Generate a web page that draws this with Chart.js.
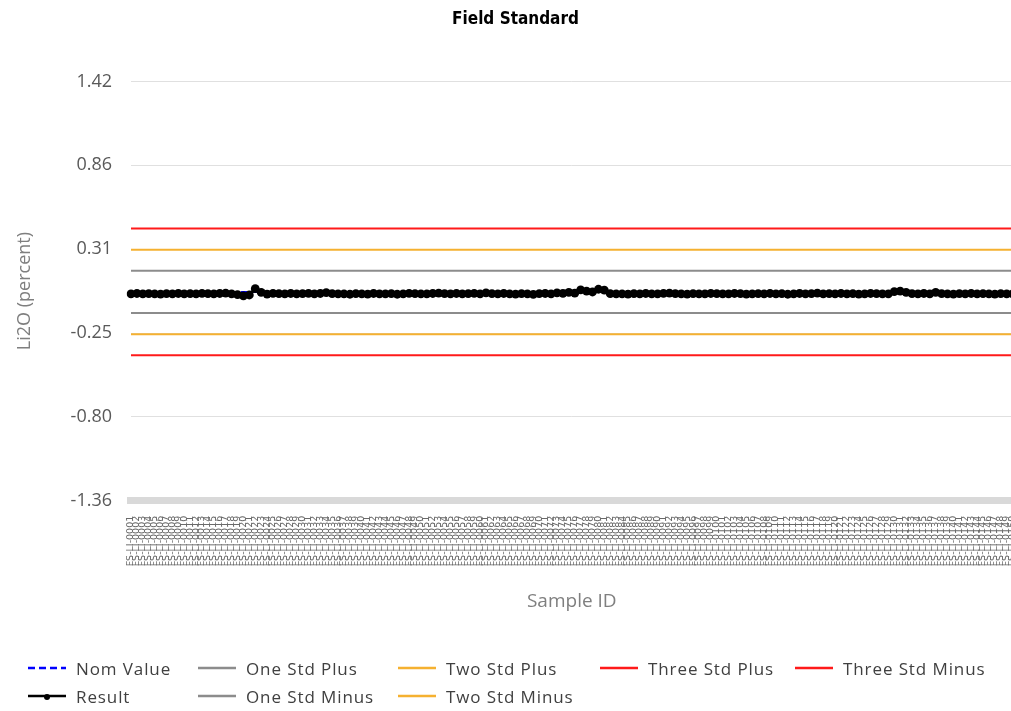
<!DOCTYPE html>
<html lang="en">
  <head>
    <meta charset="UTF-8" />
    <title>Field Standard</title>
    <script src="https://cdn.jsdelivr.net/npm/chart.js"></script>
    <style>
      body {
        margin: 0;
        padding: 0;
        background: #fff;
        overflow: hidden;
      }

      #wrap {
        position: relative;
        width: 1011px;
        height: 711px;
        overflow: hidden;
      }

      #legend {
        position: absolute;
        left: 28px;
        top: 654px;
        display: grid;
        grid-template-columns: 170px 200px 202px 195px 200px;
        grid-auto-rows: 28px;
        font-family: "Open Sans", sans-serif;
        font-size: 17px;
        letter-spacing: 0.9px;
        color: #404040;
      }

      .item {
        display: flex;
        align-items: center;
        white-space: nowrap;
      }

      .item canvas {
        margin-right: 10px;
      }
    </style>
  </head>
  <body>
    <div id="wrap">
      <!-- a little wider than the page, the plot runs off the right edge -->
      <canvas id="qcChart" width="1031" height="711"></canvas>
      <div id="legend"></div>
    </div>

    <script>
      // Li2O results for the field standard, in sample order
      const results = [
        0.012, 0.014, 0.011, 0.013, 0.012, 0.010, 0.013, 0.012, 0.014, 0.011,
        0.013, 0.012, 0.015, 0.013, 0.011, 0.014, 0.016, 0.012, 0.006, -0.002,
        0.004, 0.046, 0.022, 0.010, 0.015, 0.013, 0.012, 0.014, 0.011, 0.013,
        0.015, 0.012, 0.014, 0.020, 0.013, 0.011, 0.012, 0.009, 0.013, 0.012,
        0.010, 0.014, 0.012, 0.011, 0.013, 0.009, 0.012, 0.015, 0.013, 0.011,
        0.012, 0.014, 0.016, 0.013, 0.012, 0.014, 0.011, 0.013, 0.015, 0.012,
        0.018, 0.013, 0.012, 0.014, 0.011, 0.010, 0.013, 0.012, 0.008, 0.013,
        0.014, 0.012, 0.018, 0.015, 0.021, 0.016, 0.038, 0.030, 0.024, 0.042,
        0.036, 0.013, 0.011, 0.012, 0.010, 0.013, 0.012, 0.014, 0.011, 0.012,
        0.015, 0.017, 0.013, 0.012, 0.010, 0.013, 0.011, 0.012, 0.014, 0.013,
        0.011, 0.012, 0.014, 0.013, 0.010, 0.012, 0.013, 0.011, 0.014, 0.012,
        0.013, 0.009, 0.012, 0.014, 0.011, 0.013, 0.016, 0.012, 0.013, 0.011,
        0.014, 0.012, 0.013, 0.010, 0.012, 0.014, 0.013, 0.011, 0.012, 0.026,
        0.030, 0.022, 0.013, 0.012, 0.014, 0.011, 0.021, 0.013, 0.012, 0.010,
        0.013, 0.012, 0.014, 0.011, 0.013, 0.012, 0.010, 0.013, 0.012, 0.011,
      ];

      // sample IDs along the x axis
      const sampleIds = results.map((v, i) => "FS-LI-" + String(i + 1).padStart(4, "0"));

      // control limits
      const nomValue = 0.024;
      const oneStdPlus = 0.164;
      const oneStdMinus = -0.116;
      const twoStdPlus = 0.304;
      const twoStdMinus = -0.256;
      const threeStdPlus = 0.444;
      const threeStdMinus = -0.396;

      // y axis runs -1.36 .. 1.42 in five equal steps
      const yMin = -1.36;
      const yMax = 1.42;

      const flat = (v) => sampleIds.map(() => v);

      const limitLine = (label, value, color, order) => ({
        label: label,
        data: flat(value),
        borderColor: color,
        backgroundColor: color,
        borderWidth: 2,
        pointRadius: 0,
        fill: false,
        order: order,
      });

      const datasets = [
        {
          label: "Nom Value",
          data: flat(nomValue),
          borderColor: "#0000ff",
          backgroundColor: "#0000ff",
          borderWidth: 2,
          borderDash: [6, 4],
          pointRadius: 0,
          fill: false,
          order: 1,
        },
        {
          label: "Result",
          data: results,
          borderColor: "#000",
          backgroundColor: "#000",
          borderWidth: 3,
          pointRadius: 4.4,
          pointBorderWidth: 0,
          fill: false,
          order: 0,
        },
        limitLine("One Std Plus", oneStdPlus, "#8c8c8c", 2),
        limitLine("One Std Minus", oneStdMinus, "#8c8c8c", 2),
        limitLine("Two Std Plus", twoStdPlus, "#f5b130", 2),
        limitLine("Two Std Minus", twoStdMinus, "#f5b130", 2),
        limitLine("Three Std Plus", threeStdPlus, "#ff1a1a", 2),
        limitLine("Three Std Minus", threeStdMinus, "#ff1a1a", 2),
      ];

      const ctx = document.getElementById("qcChart").getContext("2d");

      const chart = new Chart(ctx, {
        type: "line",
        data: { labels: sampleIds, datasets: datasets },
        options: {
          responsive: false,
          animation: false,
          layout: { padding: { left: 0, right: 0, top: 0, bottom: 98 } },
          plugins: {
            legend: { display: false },
            tooltip: { enabled: false },
            title: {
              display: true,
              text: "Field Standard",
              color: "#000",
              font: { family: '"DejaVu Sans Condensed", "DejaVu Sans", sans-serif', size: 17, weight: "bold" },
              padding: { top: 9, bottom: 52 },
            },
          },
          scales: {
            x: {
              grid: { display: false },
              border: { display: true, color: "#d9d9d9", width: 7 },
              ticks: {
                autoSkip: false,
                minRotation: 90,
                maxRotation: 90,
                color: "#6a6a6a",
                font: { family: "DejaVu Sans", size: 9.5 },
                padding: 7,
              },
              title: {
                display: true,
                text: "Sample ID",
                color: "#7f7f7f",
                font: { family: "Open Sans", size: 19 },
                padding: { top: 17, bottom: 0 },
              },
            },
            y: {
              min: yMin,
              max: yMax,
              grid: { color: "#e0e0e0", lineWidth: 1, drawTicks: false },
              border: { display: false },
              ticks: {
                stepSize: (yMax - yMin) / 5,
                color: "#595959",
                font: { family: "Open Sans", size: 18 },
                padding: 19,
                callback: (v) => Number(v).toFixed(2),
              },
              title: {
                display: true,
                text: "Li2O (percent)",
                color: "#7f7f7f",
                font: { family: "Open Sans", size: 18 },
                padding: { top: 14, bottom: 16 },
              },
            },
          },
        },
      });

      // legend laid out in two rows like the original report
      const legendOrder = [
        "Nom Value", "One Std Plus", "Two Std Plus", "Three Std Plus", "Three Std Minus",
        "Result", "One Std Minus", "Two Std Minus",
      ];

      const legendBox = document.getElementById("legend");
      legendOrder.forEach((name) => {
        const ds = chart.data.datasets.find((d) => d.label === name);
        const item = document.createElement("div");
        item.className = "item";
        const swatch = document.createElement("canvas");
        swatch.width = 38;
        swatch.height = 12;
        const s = swatch.getContext("2d");
        s.strokeStyle = ds.borderColor;
        s.lineWidth = 2.5;
        if (ds.borderDash) s.setLineDash([7, 4]);
        s.beginPath();
        s.moveTo(0, 6);
        s.lineTo(38, 6);
        s.stroke();
        if (ds.pointRadius > 0) {
          s.fillStyle = ds.backgroundColor;
          s.beginPath();
          s.arc(19, 7, 3, 0, Math.PI * 2);
          s.fill();
        }
        item.appendChild(swatch);
        const text = document.createElement("span");
        text.textContent = name;
        item.appendChild(text);
        legendBox.appendChild(item);
      });
    </script>
  </body>
</html>
